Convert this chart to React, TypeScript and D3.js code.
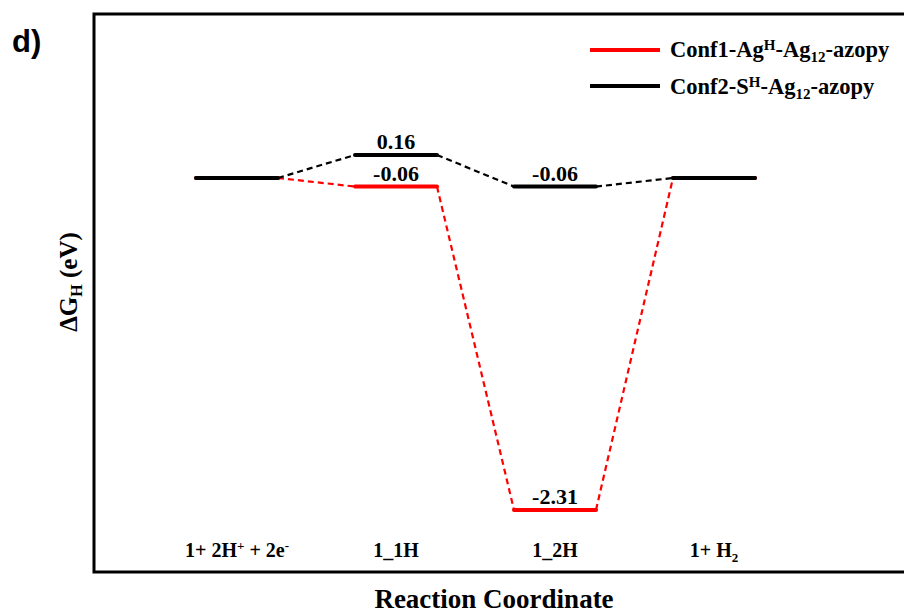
import React from "react";
import * as d3 from "d3";

const categories = ["s0", "s1", "s2", "s3"];
const conf1Values = [0, -0.06, -2.31, 0];
const conf2Values = [0, 0.16, -0.06, 0];
const conf1Labels = [null, "-0.06", "-2.31", null];
const conf2Labels = [null, "0.16", "-0.06", null];

const W = 904;
const H = 614;
const frame = { left: 94, top: 14, right: 912, bottom: 572 };
const halfW = 41;
const RED = "#ff0000";
const BLACK = "#000000";
const serif = "'Liberation Serif', 'Times New Roman', serif";

const x = d3.scalePoint<string>().domain(categories).range([237, 714]);
const y = d3.scaleLinear().domain([-2.742, 1.141]).range([frame.bottom, frame.top]);

function Series({ values, color, labels }: { values: number[]; color: string; labels: (string | null)[] }) {
  const segs: { x1: number; y1: number; x2: number; y2: number }[] = [];
  for (let i = 0; i < values.length - 1; i++) {
    segs.push({
      x1: (x(categories[i]) as number) + halfW,
      y1: y(values[i]),
      x2: (x(categories[i + 1]) as number) - halfW,
      y2: y(values[i + 1]),
    });
  }
  return (
    <g>
      {segs.map((s, i) => (
        <line key={"d" + i} x1={s.x1} y1={s.y1} x2={s.x2} y2={s.y2} stroke={color} strokeWidth={2.2} strokeDasharray="6,4" />
      ))}
      {values.map((v, i) => {
        const cx = x(categories[i]) as number;
        return (
          <line key={"l" + i} x1={cx - halfW} x2={cx + halfW} y1={y(v)} y2={y(v)} stroke={color} strokeWidth={4} strokeLinecap="round" />
        );
      })}
      {labels.map((t, i) =>
        t ? (
          <text key={"t" + i} x={x(categories[i]) as number} y={y(values[i]) - 6} textAnchor="middle" fontFamily={serif} fontWeight="bold" fontSize={22} fill="#000">
            {t}
          </text>
        ) : null
      )}
    </g>
  );
}

export default function App() {
  const tickY = 557;
  return (
    <svg width={W} height={H} style={{ position: "absolute", left: 0, top: 0, background: "#fff" }}>
      <rect x={0} y={0} width={W} height={H} fill="#fff" />
      <text x={12} y={52} fontFamily="'Liberation Sans', Arial, sans-serif" fontWeight="bold" fontSize={31}>d)</text>
      <rect x={frame.left} y={frame.top} width={frame.right - frame.left} height={frame.bottom - frame.top} fill="none" stroke="#000" strokeWidth={3} />

      <Series values={conf1Values} color={RED} labels={conf1Labels} />
      <Series values={conf2Values} color={BLACK} labels={conf2Labels} />

      {/* legend */}
      <line x1={590} x2={660} y1={50} y2={50} stroke={RED} strokeWidth={4} />
      <text x={670} y={57} fontFamily={serif} fontWeight="bold" fontSize={22.5}>
        Conf1-Ag<tspan dy={-7} fontSize={15}>H</tspan><tspan dy={7}>-Ag</tspan><tspan dy={5} fontSize={15}>12</tspan><tspan dy={-5}>-azopy</tspan>
      </text>
      <line x1={590} x2={660} y1={86} y2={86} stroke={BLACK} strokeWidth={4} />
      <text x={670} y={94} fontFamily={serif} fontWeight="bold" fontSize={22.5}>
        Conf2-S<tspan dy={-7} fontSize={15}>H</tspan><tspan dy={7}>-Ag</tspan><tspan dy={5} fontSize={15}>12</tspan><tspan dy={-5}>-azopy</tspan>
      </text>

      {/* category labels */}
      <g fontFamily={serif} fontWeight="bold" fontSize={20} textAnchor="middle">
        <text x={x(categories[0]) as number} y={tickY}>
          1+ 2H<tspan dy={-7} fontSize={13}>+</tspan><tspan dy={7}> + 2e</tspan><tspan dy={-7} fontSize={13}>-</tspan>
        </text>
        <text x={x(categories[1]) as number} y={tickY}>1_1H</text>
        <text x={x(categories[2]) as number} y={tickY}>1_2H</text>
        <text x={x(categories[3]) as number} y={tickY}>
          1+ H<tspan dy={5} fontSize={13}>2</tspan>
        </text>
      </g>

      <text x={494} y={608} textAnchor="middle" fontFamily={serif} fontWeight="bold" fontSize={27}>Reaction Coordinate</text>
      <text transform="translate(77,282) rotate(-90)" textAnchor="middle" fontFamily={serif} fontWeight="bold" fontSize={25}>
        ΔG<tspan dy={5} fontSize={16}>H</tspan><tspan dy={-5}> (eV)</tspan>
      </text>
    </svg>
  );
}
